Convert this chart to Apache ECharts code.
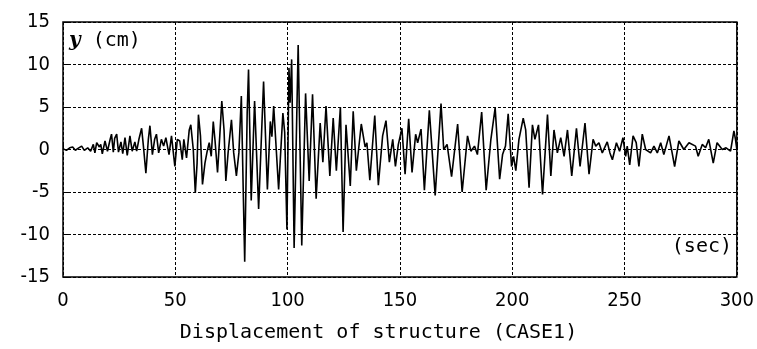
<!DOCTYPE html>
<html>
<head>
<meta charset="utf-8">
<script src="https://cdn.jsdelivr.net/npm/echarts@6/dist/echarts.min.js"></script>
<style>
  html, body { margin: 0; padding: 0; background: #fff; }
  #chart { width: 757px; height: 349px; }
</style>
</head>
<body>
<div id="chart"></div>
<script>
// time of each turning point (sec)
const timeSec = [
  0, 1.5, 3, 4.3, 5.5, 6.5, 8.3, 9.5, 11, 12.3, 13.5, 14.2, 15, 16.2, 16.8, 17.5, 18.7, 19.8, 21, 21.6,
  22.4, 23, 23.9, 24.7, 25.8, 26.6, 27.6, 28.6, 29.8, 30.8, 32, 32.8, 33.8, 35, 35.8, 36.9, 38, 38.7, 39.8, 40.8,
  41.6, 42.6, 43.8, 44.8, 45.8, 47.2, 48.3, 49.8, 50.9, 52, 53.1, 53.8, 55, 56.2, 56.9, 58, 58.9, 59.7, 60.3, 61.2,
  62.1, 63.2, 64.2, 65.1, 66, 66.9, 67.7, 68.8, 69.8, 70.7, 71.7, 72.5, 73.5, 75, 76, 77.2, 78.3, 79.4, 80.2, 80.9,
  82, 82.6, 83.8, 85.3, 87.1, 89.3, 91, 92.3, 93, 93.8, 96, 97.9, 98.7, 99.7, 100.6, 101.1, 101.8, 102.9, 104.7, 106.3,
  108, 109.6, 111.1, 112.7, 114.5, 115.7, 117.1, 118.8, 120.3, 121.7, 123.5, 124.7, 126, 127.9, 129.2, 130.6, 132.8, 134.5, 135.3, 136.6,
  138.8, 140.4, 142.3, 143.8, 145.3, 146.8, 148, 149.3, 150.9, 152.3, 153.9, 155.4, 157, 157.9, 159.4, 160.9, 163.1, 165.7, 168.3, 169.5,
  171, 173, 175.7, 177.7, 180.1, 181.6, 183.2, 184.5, 186.4, 188.4, 190.5, 192.4, 194.4, 195.7, 197, 198.2, 199.7, 200.6, 201.6, 203,
  204.9, 206, 207.5, 209, 210.1, 211.7, 213.5, 215.7, 217.2, 218.6, 220.1, 221.6, 223.1, 224.6, 226.5, 228.6, 230.2, 232.4, 234.2, 236,
  237.2, 238.6, 240.1, 242.3, 243.5, 244.6, 246.4, 247.8, 249.3, 250.5, 251.2, 252.3, 253.8, 255.2, 256.4, 257.9, 259.4, 261.6, 263.1, 264.6,
  266.1, 267.5, 269.8, 271.2, 272.3, 274.2, 276.4, 278.7, 281.6, 282.8, 284.6, 286.1, 287.5, 289.5, 291.2, 293.5, 295.2, 297.2, 298.7, 299.4,
  300
]
// displacement at those points (cm)
const dispCm = [
  0.1, -0.1, 0.2, 0.3, -0.1, 0.1, 0.4, -0.1, 0.2, -0.2, 0.6, -0.4, 0.8, 0.3, 0.6, -0.5, 1.0, -0.2, 1.2, 1.8,
  -0.3, 1.3, 1.8, -0.3, 0.9, -0.5, 1.4, -0.7, 1.6, -0.2, 0.9, -0.2, 1.2, 2.5, 0.4, -2.8, 1.2, 2.8, -0.6, 1.2,
  1.8, -0.4, 1.2, 0.4, 1.4, -0.6, 1.6, -2.0, 1.2, 1.0, -1.2, 1.2, -1.0, 2.3, 2.9, 0, -5.1, -1.6, 4.1, 1.6,
  -4.1, -1.6, -0.2, 0.8, -0.8, 3.3, 1.0, -2.7, 1.6, 5.7, 2.3, -3.7, -0.4, 3.5, -0.4, -3.1, -0.4, 6.3, -4.3, -13.2,
  4.3, 9.4, -6.0, 5.7, -7.0, 8.0, -4.7, 3.3, 1.5, 5.1, -4.7, 4.3, 2.0, -9.4, 9.6, 5.5, 10.6, -11.6, 12.3, -11.3,
  6.6, -3.7, 6.5, -5.8, 3.1, -1.5, 5.1, -3.1, 3.7, -2.5, 5.0, -9.7, 2.9, -4.3, 4.5, -2.5, 3.0, 0.3, 0.8, -3.6,
  4.0, -4.2, 1.6, 3.4, -1.5, 1.2, -2.0, 0.6, 2.5, -2.9, 3.6, -2.7, 1.8, 0.8, 2.4, -4.8, 4.6, -5.4, 5.4, 0,
  0.6, -3.2, 3.0, -5.0, 1.6, -0.2, 0.4, -0.6, 4.4, -4.8, 1.2, 4.9, -3.5, -0.6, 0.4, 4.2, -2.0, -0.8, -2.5, 1.2,
  3.7, 2.3, -4.5, 2.9, 1.2, 2.9, -5.3, 4.1, -3.1, 2.3, -0.4, 1.4, -0.8, 2.3, -3.1, 2.5, -2.0, 3.1, -2.9, 1.2,
  0.4, 0.8, -0.4, 0.9, -0.4, -1.2, 0.8, -0.2, 1.4, -0.8, 0.4, -1.8, 1.6, 0.8, -2.0, 1.8, 0, -0.4, 0.4, -0.4,
  0.8, -0.6, 1.6, -0.4, -2.0, 1.0, 0, 0.8, 0.4, -0.8, 0.6, 0.2, 1.2, -1.6, 0.8, 0, 0.2, -0.2, 2.2, 1.2,
  0
]

const xMin = 0, xMax = 300, xStep = 50
const yMin = -15, yMax = 15, yStep = 5
const titleText = 'Displacement of structure (CASE1)'

const labelFont = "'DejaVu Sans Condensed', 'Liberation Sans Narrow', 'Liberation Sans', sans-serif"
const monoFont = "'DejaVu Sans Mono', 'Liberation Mono', monospace"

const chart = echarts.init(document.getElementById('chart'))

const dotted = { color: '#000', width: 1, type: [3, 2] }

chart.setOption({
  animation: false,
  backgroundColor: '#fff',
  grid: {
    left: 63, right: 19, top: 22, bottom: 72,
    show: true, borderColor: '#000', borderWidth: 1.5,
  },
  title: {
    text: titleText,
    left: 'center',
    top: 318,
    textStyle: { fontFamily: monoFont, fontSize: 20, fontWeight: 'normal', color: '#000' },
  },
  xAxis: {
    type: 'value',
    min: xMin, max: xMax, interval: xStep,
    axisLine: { show: false },
    axisTick: { show: true, inside: true, length: 6, lineStyle: { color: '#000', width: 1 } },
    axisLabel: { color: '#000', fontFamily: labelFont, fontSize: 20, margin: 14 },
    splitLine: { show: true, lineStyle: dotted },
  },
  yAxis: {
    type: 'value',
    min: yMin, max: yMax, interval: yStep,
    axisLine: { show: false },
    axisTick: { show: true, inside: true, length: 6, lineStyle: { color: '#000', width: 1 } },
    axisLabel: { color: '#000', fontFamily: labelFont, fontSize: 20, margin: 13 },
    splitLine: { show: true, lineStyle: dotted },
  },
  graphic: [
    {
      type: 'text', left: 69, top: 31,
      style: {
        text: '{y|y}{u| (cm)}',
        rich: {
          y: { fontFamily: 'DejaVu Serif', fontStyle: 'italic', fontWeight: 'bold', fontSize: 20, fill: '#000' },
          u: { fontFamily: monoFont, fontSize: 20, fill: '#000' },
        },
      },
    },
    {
      type: 'text', right: 25, top: 237,
      style: { text: '(sec)', fontFamily: monoFont, fontSize: 20, fill: '#000' },
    },
  ],
  series: [{
    type: 'line',
    data: timeSec.map((t, i) => [t, dispCm[i]]),
    symbol: 'none',
    lineStyle: { color: '#000', width: 1.6 },
    clip: true,
  }],
})
</script>
</body>
</html>
